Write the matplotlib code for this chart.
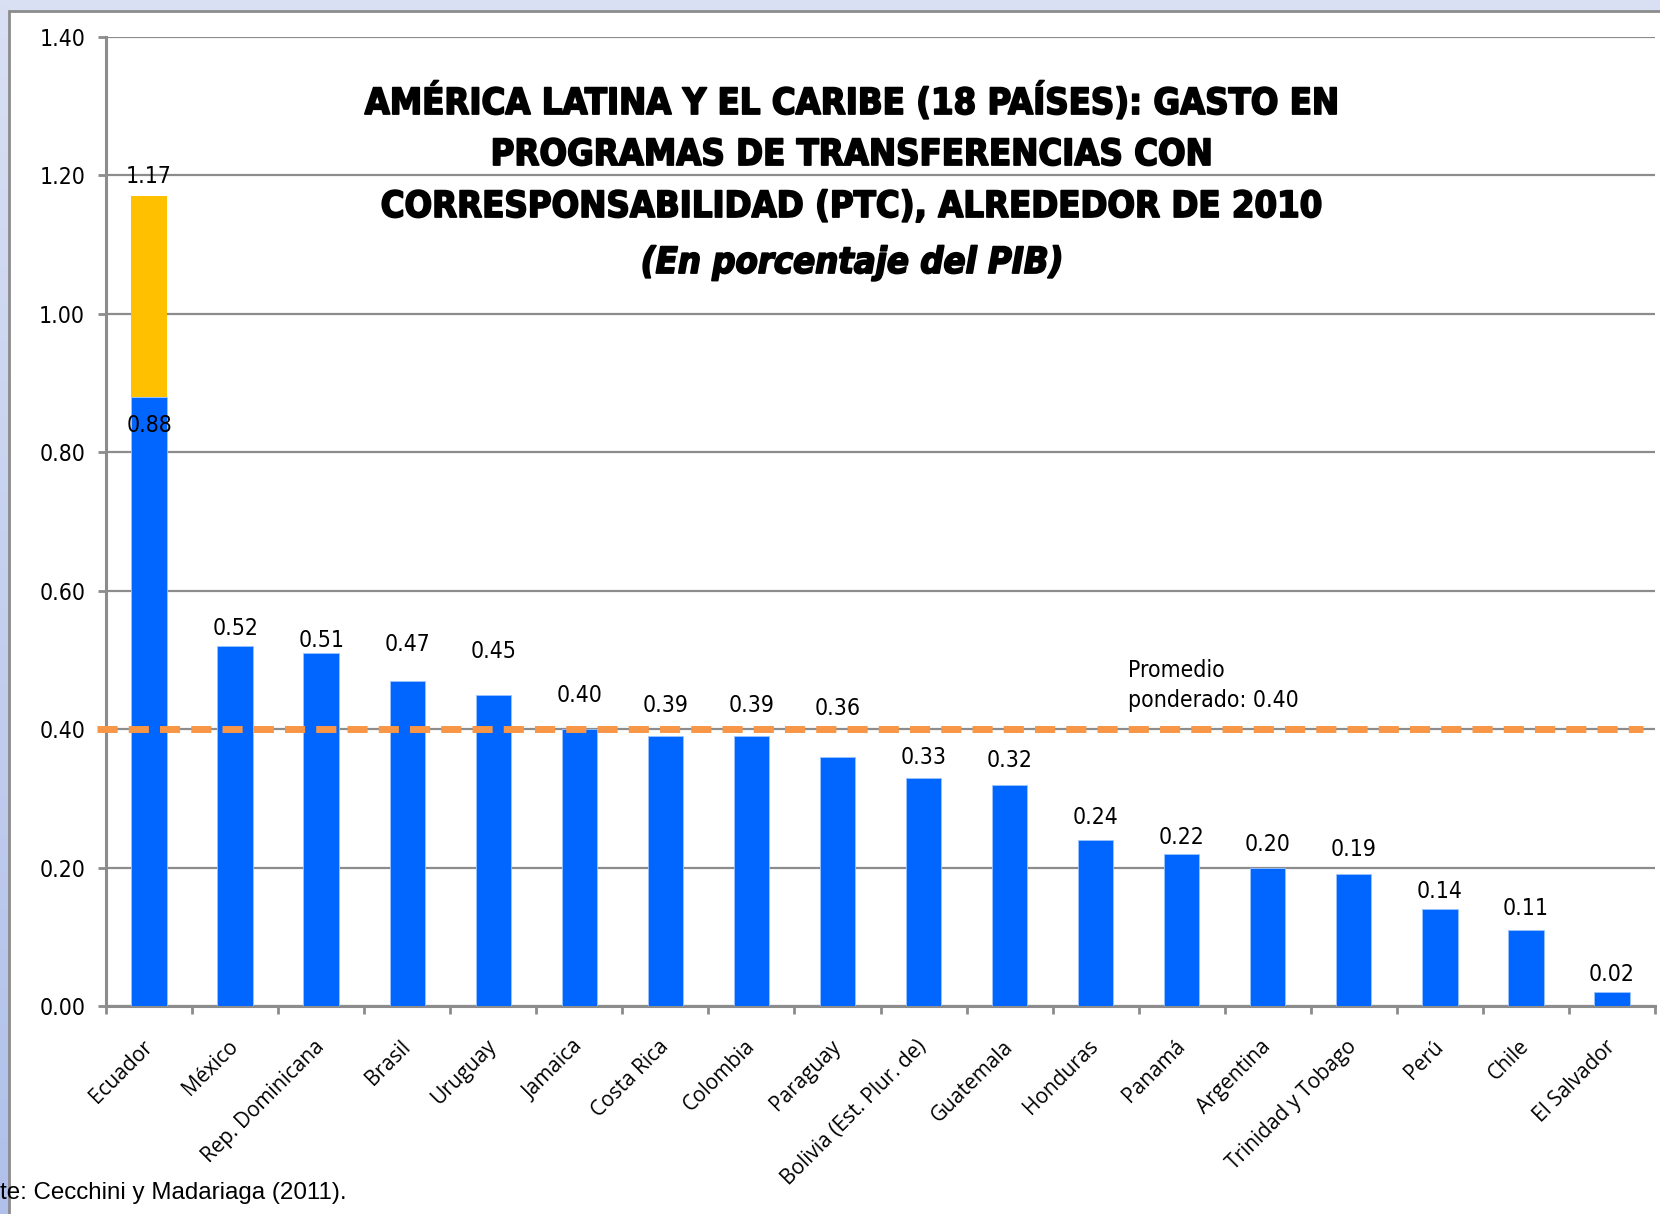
import numpy as np
import matplotlib
matplotlib.use("Agg")
import matplotlib.pyplot as plt
import matplotlib.patheffects as pe
from matplotlib import font_manager
from matplotlib.patches import Rectangle

# ----------------------------------------------------------------------------
# DATA (porcentaje del PIB, alrededor de 2010)
# ----------------------------------------------------------------------------
countries = ["Ecuador", "México", "Rep. Dominicana", "Brasil", "Uruguay",
             "Jamaica", "Costa Rica", "Colombia", "Paraguay",
             "Bolivia (Est. Plur. de)", "Guatemala", "Honduras", "Panamá",
             "Argentina", "Trinidad y Tobago", "Perú", "Chile", "El Salvador"]
gasto = [0.88, 0.52, 0.51, 0.47, 0.45, 0.40, 0.39, 0.39, 0.36, 0.33, 0.32,
         0.24, 0.22, 0.20, 0.19, 0.14, 0.11, 0.02]
extra_ecuador = 0.29          # tramo amarillo, total 1.17
total_ecuador = 1.17
promedio = 0.40
yticks = [0.0, 0.2, 0.4, 0.6, 0.8, 1.0, 1.2, 1.4]

title_lines = ["AMÉRICA LATINA Y EL CARIBE (18 PAÍSES): GASTO EN",
               "PROGRAMAS DE TRANSFERENCIAS CON",
               "CORRESPONSABILIDAD (PTC), ALREDEDOR DE 2010"]
subtitle = "(En porcentaje del PIB)"
fuente = "te: Cecchini y Madariaga (2011)."

# desplazamiento vertical de cada etiqueta sobre su barra (layout, no datos)
label_offset = [0.028, 0.025, 0.018, 0.052, 0.062, 0.049, 0.044, 0.044, 0.070,
                0.029, 0.034, 0.033, 0.024, 0.033, 0.036, 0.026, 0.031, 0.025]

# ----------------------------------------------------------------------------
# STYLE
# ----------------------------------------------------------------------------
BLUE = "#0066FF"
YELLOW = "#FFC000"
ORANGE = "#F79646"
GRAY = "#8C8C8C"

fl = font_manager.fontManager.ttflist


def is_bold(f):
    w = f.weight
    if isinstance(w, str):
        return "bold" in w.lower() or w.lower() in ("heavy", "black")
    return w >= 600


def is_cond(f):
    return "condensed" in str(f.stretch).lower() or "narrow" in f.name.lower() \
        or "condensed" in f.name.lower()


# fuente estrecha y negrita para el titulo
TITLE_FONT, TITLE_STRETCH = "DejaVu Sans", "normal"
prefer = ["Liberation Sans Narrow", "DejaVu Sans"]
found = [f for f in fl if is_bold(f) and is_cond(f)]
found.sort(key=lambda f: prefer.index(f.name) if f.name in prefer else 9)
if found:
    TITLE_FONT = found[0].name
    TITLE_STRETCH = "condensed" if "condensed" in str(found[0].stretch).lower() else "normal"

# numeros: DejaVu Sans condensada si existe
DV_COND = any(f.name == "DejaVu Sans" and "condensed" in str(f.stretch).lower()
              and not is_bold(f) for f in fl)
NUM = dict(family="DejaVu Sans", fontstretch="condensed" if DV_COND else "normal",
           fontsize=16.5 if DV_COND else 15)

names = {f.name for f in fl}
LABEL_FONT = "Open Sans" if "Open Sans" in names else "DejaVu Sans"

W, H = 1660, 1214
fig = plt.figure(figsize=(W / 100, H / 100), dpi=100)
fig.patch.set_facecolor("#D9E0F3")

# franja izquierda con degradado
strip = fig.add_axes([0, 0, 9 / W, 1], zorder=-2)
grad = np.linspace(0, 1, 256).reshape(-1, 1)
c0 = np.array([0xD9, 0xE0, 0xF3]) / 255
c1 = np.array([0xB0, 0xC0, 0xEA]) / 255
strip.imshow(c0 + (c1 - c0) * grad[:, :, None], aspect="auto")
strip.axis("off")

# panel blanco con borde gris (solo izquierda/arriba visibles)
fig.patches.append(Rectangle((9 / W, -0.2), 1.5, 1.2 - 11 / H,
                             transform=fig.transFigure, facecolor="white",
                             edgecolor=GRAY, linewidth=2, zorder=-1))

ax = fig.add_axes([106 / W, 1 - 1006 / H, (1655 - 106) / W, (1006 - 37) / H],
                  zorder=2)
ax.set_facecolor("none")

x = np.arange(len(countries))
bw = 0.41
ax.bar(x, gasto, width=bw, color=BLUE, edgecolor="#9CC3FF", linewidth=0.6, zorder=3)
ax.bar(x[0], extra_ecuador, bottom=gasto[0], width=bw, color=YELLOW, zorder=3)

# etiquetas de valores
for xi, v, off in zip(x[1:], gasto[1:], label_offset[1:]):
    ax.text(xi, v + off, f"{v:.2f}", ha="center", va="center", zorder=5, **NUM)
ax.text(x[0], total_ecuador + label_offset[0], f"{total_ecuador:.2f}",
        ha="center", va="center", zorder=5, **NUM)
ax.text(x[0], gasto[0] - 0.042, f"{gasto[0]:.2f}", ha="center", va="center",
        zorder=5, **NUM)

# promedio ponderado
ax.plot([-0.6, 17.36], [promedio, promedio], color=ORANGE, lw=5,
        dashes=(2.9, 1.6), clip_on=False, zorder=4)
ax.text(11.38, 0.463, f"Promedio\nponderado: {promedio:.2f}", ha="left",
        va="center", linespacing=1.35, zorder=5, **NUM)

ax.set_xlim(-0.5, len(countries) - 0.5)
ax.set_ylim(0, 1.4)
ax.set_yticks(yticks)
ax.set_yticklabels([f"{t:.2f}" for t in yticks], **NUM)
ax.grid(True, axis="y", color=GRAY, lw=1.6, zorder=1)
ax.set_axisbelow(True)

ax.set_xticks(x)
ax.set_xticklabels(countries, rotation=45, ha="right", va="center",
                   rotation_mode="anchor", fontsize=15, family=LABEL_FONT)
ax.set_xticks(np.arange(-0.5, len(countries)), minor=True)
ax.tick_params(axis="x", which="major", length=0, pad=27)
ax.tick_params(axis="x", which="minor", length=6, width=2, color=GRAY)
ax.tick_params(axis="y", length=6, width=2, color=GRAY, pad=9)

for s in ["top", "right"]:
    ax.spines[s].set_visible(False)
for s in ["left", "bottom"]:
    ax.spines[s].set_color(GRAY)
    ax.spines[s].set_linewidth(2.2)

# titulo: ajustar el tamano para igualar el ancho del original
heavy = [pe.withStroke(linewidth=1.3, foreground="black")]
title_texts = []
for yy, line in zip([102, 155, 207], title_lines):
    t = fig.text(852 / W, 1 - yy / H, line, ha="center", va="center",
                 fontsize=36, fontweight="bold", family=TITLE_FONT,
                 fontstretch=TITLE_STRETCH, zorder=5, path_effects=heavy)
    title_texts.append(t)
sub = fig.text(852 / W, 1 - 263 / H, subtitle, ha="center", va="center",
               fontsize=36, fontweight="bold", fontstyle="italic",
               family=TITLE_FONT, fontstretch=TITLE_STRETCH, zorder=5,
               path_effects=heavy)

renderer = fig.canvas.get_renderer()
w0 = title_texts[0].get_window_extent(renderer).width
k = min(1.0, 975 / w0)
for t in title_texts + [sub]:
    t.set_fontsize(36 * k)

fig.text(0, 1 - 1193 / H, fuente, ha="left", va="center", fontsize=17.4,
         family="Liberation Sans")

fig.savefig("out.png", dpi=100)
